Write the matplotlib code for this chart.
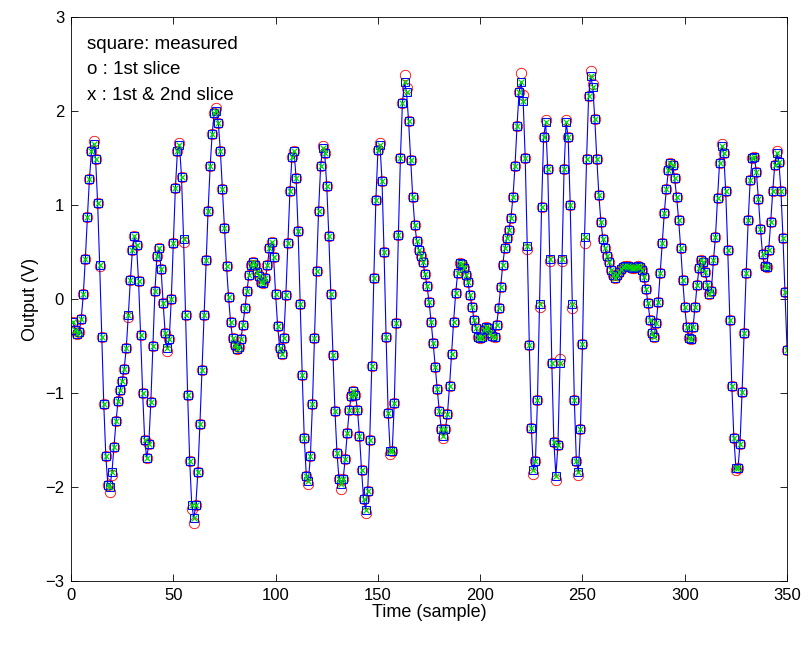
import numpy as np
import matplotlib.pyplot as plt

plt.rcParams['font.family'] = ['Liberation Sans', 'DejaVu Sans']

# measured output, one value per sample
measured = [
    -0.24, -0.33, -0.37, -0.35, -0.21, 0.05, 0.43, 0.87, 1.28, 1.57,
    1.65, 1.49, 1.02, 0.36, -0.40, -1.12, -1.67, -1.98, -2.00, -1.84,
    -1.57, -1.30, -1.08, -0.97, -0.87, -0.74, -0.52, -0.17, 0.20, 0.52,
    0.67, 0.57, 0.19, -0.38, -1.00, -1.50, -1.69, -1.54, -1.10, -0.50,
    0.08, 0.46, 0.54, 0.32, -0.04, -0.36, -0.52, -0.43, 0.00, 0.60,
    1.18, 1.57, 1.64, 1.30, 0.64, -0.17, -1.02, -1.72, -2.19, -2.33,
    -2.19, -1.84, -1.33, -0.76, -0.17, 0.41, 0.94, 1.41, 1.76, 1.98,
    2.00, 1.87, 1.57, 1.17, 0.76, 0.35, 0.02, -0.25, -0.42, -0.49,
    -0.53, -0.51, -0.43, -0.28, -0.10, 0.09, 0.26, 0.36, 0.39, 0.36,
    0.29, 0.24, 0.18, 0.17, 0.22, 0.36, 0.54, 0.61, 0.45, 0.05,
    -0.29, -0.52, -0.58, -0.41, 0.04, 0.60, 1.15, 1.51, 1.57, 1.29,
    0.72, -0.05, -0.81, -1.48, -1.88, -1.94, -1.67, -1.12, -0.42, 0.30,
    0.94, 1.41, 1.61, 1.55, 1.20, 0.67, 0.05, -0.60, -1.19, -1.64,
    -1.92, -1.97, -1.92, -1.70, -1.43, -1.18, -1.03, -0.98, -1.02, -1.18,
    -1.46, -1.82, -2.13, -2.24, -2.04, -1.50, -0.71, 0.22, 1.05, 1.58,
    1.64, 1.26, 0.50, -0.40, -1.21, -1.62, -1.62, -1.11, -0.26, 0.68,
    1.50, 2.09, 2.31, 2.20, 1.89, 1.48, 1.09, 0.79, 0.62, 0.52,
    0.46, 0.39, 0.27, 0.14, -0.03, -0.24, -0.47, -0.72, -0.96, -1.19,
    -1.38, -1.46, -1.38, -1.22, -0.93, -0.58, -0.24, 0.06, 0.28, 0.38,
    0.37, 0.33, 0.26, 0.18, 0.04, -0.08, -0.22, -0.31, -0.40, -0.42,
    -0.40, -0.33, -0.30, -0.31, -0.36, -0.39, -0.40, -0.28, -0.10, 0.13,
    0.36, 0.54, 0.65, 0.73, 0.86, 1.08, 1.41, 1.84, 2.20, 2.31,
    2.11, 1.50, 0.56, -0.49, -1.37, -1.82, -1.72, -1.07, -0.05, 0.98,
    1.72, 1.88, 1.38, 0.43, -0.68, -1.52, -1.88, -1.55, -0.68, 0.43,
    1.38, 1.88, 1.72, 1.00, -0.05, -1.07, -1.72, -1.84, -1.38, -0.48,
    0.66, 1.49, 2.16, 2.37, 2.26, 1.92, 1.49, 1.11, 0.82, 0.64,
    0.54, 0.46, 0.39, 0.31, 0.25, 0.22, 0.25, 0.29, 0.32, 0.34,
    0.35, 0.35, 0.34, 0.33, 0.33, 0.34, 0.35, 0.34, 0.31, 0.23,
    0.11, -0.04, -0.22, -0.36, -0.40, -0.26, -0.03, 0.28, 0.60, 0.92,
    1.17, 1.37, 1.45, 1.43, 1.29, 1.09, 0.84, 0.54, 0.20, -0.09,
    -0.30, -0.42, -0.43, -0.30, -0.09, 0.15, 0.33, 0.41, 0.39, 0.29,
    0.15, 0.05, 0.09, 0.41, 0.66, 1.07, 1.45, 1.63, 1.55, 1.15,
    0.52, -0.22, -0.93, -1.48, -1.80, -1.80, -1.54, -0.99, -0.36, 0.28,
    0.84, 1.27, 1.50, 1.51, 1.35, 1.06, 0.74, 0.48, 0.35, 0.34,
    0.52, 0.82, 1.15, 1.43, 1.55, 1.46, 1.15, 0.65, 0.07, -0.54,
]

# samples where the 1st-slice circles sit visibly off the measured squares
slice1_idx = [11, 14, 19, 20, 28, 47, 53, 55, 59, 60, 71, 116, 123, 132,
              144, 151, 156, 163, 164, 182, 220, 221, 223, 226, 229, 232,
              234, 237, 239, 240, 242, 245, 248, 251, 254, 255, 318, 325, 345]
slice1_val = [1.68, 0.35, -2.05, -1.87, -0.19, -0.55, 1.66, 0.61, -2.23, -2.38,
              2.03, -1.97, 1.63, -2.02, -2.28, 1.66, -1.65, 2.38, 2.24, -1.48,
              2.40, 2.17, 0.53, -1.86, -0.09, 1.90, 0.40, -1.93, -0.64, 0.40,
              1.90, -0.10, -1.87, 0.60, 2.43, 2.29, 1.65, -1.82, 1.57]

sample = np.arange(1, len(measured) + 1)
slice1 = np.array(measured)
for i, v in zip(slice1_idx, slice1_val):
    slice1[i - 1] = v
slice2 = np.array(measured)

fig = plt.figure(figsize=(8.1, 6.49), dpi=100)
ax = fig.add_axes([0.0877, 0.1048, 0.884, 0.869])

ax.plot(sample, slice1, 'o', mfc='none', mec='red', ms=7.5, mew=0.6)
ax.plot(sample, measured, '-s', color='blue', lw=0.8, mfc='none', mec='blue',
        ms=5.5, mew=0.7)
ax.plot(sample, slice2, 'x', color='#00dd00', ms=4.5, mew=0.9)

ax.set_xlim(0, 350)
ax.set_ylim(-3, 3)
ax.set_xticks(np.arange(0, 351, 50))
ax.set_yticks(np.arange(-3, 4, 1))
ax.tick_params(direction='in', length=5, width=0.6, top=True, right=True,
               labelsize=12, pad=5)
for s in ax.spines.values():
    s.set_linewidth(0.6)
ax.set_xlabel('Time (sample)', fontsize=13, labelpad=1)
ax.set_ylabel('Output (V)', fontsize=13, labelpad=4)

ax.text(0.022, 0.967, 'square: measured\no : 1st slice\nx : 1st & 2nd slice',
        transform=ax.transAxes, fontsize=13.5, va='top', linespacing=1.68)

plt.savefig('out.png', dpi=100)
